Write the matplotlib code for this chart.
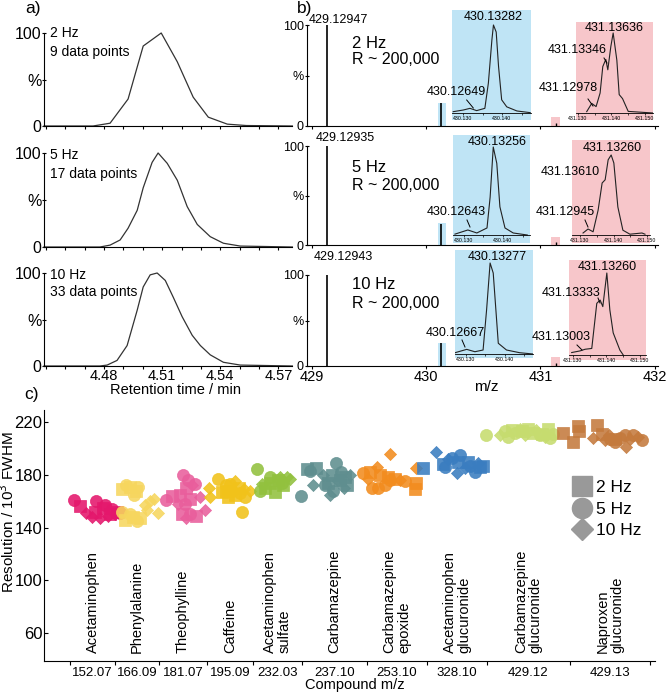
import matplotlib
matplotlib.use('Agg')
import matplotlib.pyplot as plt
from matplotlib.patches import Rectangle
from matplotlib.lines import Line2D

plt.rcParams['font.family'] = ['Liberation Sans', 'DejaVu Sans']

# ---------------- data: panel a (chromatograms) ----------------
rt_2hz = [4.449, 4.4743, 4.4831, 4.4924, 4.5002, 4.5095, 4.5178, 4.526, 4.5338, 4.5436, 4.5534, 4.5772]
int_2hz = [0, 0, 3, 29, 86, 100, 69, 31, 9.5, 2, 0.5, 0]
rt_5hz = [4.449, 4.4779, 4.4831, 4.4883, 4.4924, 4.4971, 4.5002, 4.5048, 4.5079, 4.5126, 4.5178,
          4.5229, 4.5281, 4.5348, 4.5416, 4.5503, 4.5772]
int_5hz = [0, 0, 2, 7.5, 20, 39, 63, 90, 100, 89, 71, 43, 24, 11, 4, 1, 0]
rt_10hz = [4.449, 4.4779, 4.4816, 4.4867, 4.4919, 4.4971, 4.5002, 4.5038, 4.5074, 4.5116, 4.5157,
           4.5203, 4.5255, 4.5297, 4.5348, 4.5416, 4.5503, 4.5772]
int_10hz = [0, 0, 1, 6, 22, 60, 85, 98, 100, 92, 74, 53, 33, 22, 12, 4, 1, 0]
freq_labels = ['2 Hz', '5 Hz', '10 Hz']
points_labels = ['9 data points', '17 data points', '33 data points']

# ---------------- data: panel b (spectra) ----------------
main_mz = [429.12947, 429.12935, 429.12943]
main_int = [100, 100, 100]
iso1_mz = [430.13282, 430.13256, 430.13277]
iso1_int = [23, 21, 25]
iso2_mz = [431.13636, 431.13260, 431.13260]
iso2_int = [3, 3, 3]

blue_mz_2hz = [430.1275, 430.1301, 430.1318, 430.1335, 430.1356, 430.1365, 430.1374, 430.1378,
               430.1385, 430.1391, 430.1399, 430.1412, 430.1438, 430.1472]
blue_int_2hz = [1.5, 3.4, 5.3, 2.7, 5.3, 34, 83, 100, 92, 53, 15, 7, 2.3, 0.4]
blue_mz_5hz = [430.1277, 430.1310, 430.1333, 430.1359, 430.1367, 430.1375, 430.1384, 430.1392,
               430.1405, 430.1426, 430.1462]
blue_int_5hz = [1, 5.7, 2.3, 8, 43, 100, 81.5, 32, 8, 2.3, 0]
blue_mz_10hz = [430.1272, 430.1302, 430.1323, 430.1344, 430.1353, 430.1362, 430.1370, 430.1383,
                430.1404, 430.1438, 430.1472]
blue_int_10hz = [1.4, 5.1, 2.5, 4.4, 48.5, 100, 89, 11.8, 4.4, 1.4, 0]

pink_mz_2hz = [431.1326, 431.1341, 431.1354, 431.1366, 431.1374, 431.1383, 431.1389, 431.1398,
               431.1405, 431.1416, 431.1423, 431.1433, 431.1450, 431.1524]
pink_int_2hz = [1.7, 12, 8, 25, 58, 67, 54, 83, 100, 66, 23, 18, 2, 0]
pink_mz_5hz = [431.1309, 431.1324, 431.1339, 431.1354, 431.1366, 431.1375, 431.1384, 431.1393,
               431.1401, 431.1413, 431.1428, 431.1449, 431.1485, 431.1494]
pink_int_5hz = [2.5, 7.5, 4, 31, 65, 69, 94, 100, 90, 35, 6, 1, 2.5, 1]
pink_mz_10hz = [431.1296, 431.1321, 431.1336, 431.1356, 431.1371, 431.1381, 431.1389, 431.1401,
                431.1410, 431.1420, 431.1440, 431.1450]
pink_int_10hz = [3, 5, 7, 8, 63, 67, 59, 100, 55, 27, 6, 0]

blue_peak_labels = ['430.13282', '430.13256', '430.13277']
blue_minor_labels = ['430.12649', '430.12643', '430.12667']
pink_peak_labels = ['431.13636', '431.13260', '431.13260']
pink_shoulder_labels = ['431.13346', '431.13610', '431.13333']
pink_minor_labels = ['431.12978', '431.12945', '431.13003']

# ---------------- data: panel c (resolution) ----------------
compounds = ['Acetaminophen', 'Phenylalanine', 'Theophylline', 'Caffeine', 'Acetaminophen\nsulfate',
             'Carbamazepine', 'Carbamazepine\nepoxide', 'Acetaminophen\nglucuronide',
             'Carbamazepine\nglucuronide', 'Naproxen\nglucuronide']
compound_mz = ['152.07', '166.09', '181.07', '195.09', '232.03', '237.10', '253.10', '328.10', '429.12', '429.13']
colors = ['#E4176C', '#F6D65E', '#E95E9C', '#F1C21A', '#92C13E', '#5F8E8F', '#F28C1E', '#3A7DC0',
          '#C6DC6F', '#C47A3D']

x_2hz = [[80, 95, 103, 110, 117], [122, 130, 136, 125, 133, 140], [172, 180, 186, 190, 196, 182],
         [222, 228, 235, 239, 226], [265, 275, 283, 278, 270], [307, 316, 328, 345, 347, 340, 332],
         [370, 380, 388, 395, 415, 416], [423, 443, 458, 468, 480, 483],
         [512, 522, 528, 533, 548, 542], [563, 578, 579, 597, 602, 573, 615]]
res_2hz = [[156, 152, 155, 150, 152], [169, 171, 168, 146, 148, 147], [164, 165, 170, 162, 149, 150],
           [167, 163, 165, 170, 168], [170, 167, 172, 176, 174], [184, 185, 174, 178, 172, 176, 180],
           [182, 180, 178, 177, 169, 174], [185, 188, 190, 190, 186, 187],
           [214, 213, 215, 212, 215, 211], [212, 217, 213, 218, 211, 205, 207]]
x_5hz = [[74, 96, 105, 112, 120], [126, 134, 138, 122, 130, 137], [166, 183, 188, 185, 190, 195],
         [218, 226, 232, 240, 245, 242, 230], [257, 260, 270, 282], [301, 310, 325, 336, 341, 333],
         [363, 372, 378, 385, 390, 405], [452, 460, 470, 475, 445],
         [486, 505, 508, 515, 540, 550, 553], [610, 620, 625, 633, 642, 615]]
res_5hz = [[161, 160, 157, 154, 151], [172, 165, 171, 152, 150, 145], [161, 180, 176, 158, 150, 173],
           [177, 172, 168, 166, 163, 152, 173], [184, 168, 178, 174], [164, 183, 172, 189, 182, 168],
           [181, 170, 170, 172, 176, 175], [193, 195, 187, 182, 186],
           [210, 213, 209, 212, 210, 208, 211], [207, 208, 210, 210, 206, 205]]
x_10hz = [[86, 92, 100, 108, 115, 122], [145, 150, 154, 158, 147], [178, 192, 205, 200, 186],
          [209, 210, 250, 235, 244], [287, 280, 290, 262], [313, 323, 330, 338, 350, 344],
          [368, 390, 400, 416, 377], [436, 457, 478, 465, 448],
          [500, 520, 536, 525, 545], [593, 605, 626, 630, 638, 609]]
res_10hz = [[151, 148, 147, 149, 150, 152], [157, 160, 162, 151, 153], [158, 172, 153, 163, 147],
            [170, 163, 168, 175, 169], [178, 178, 177, 173], [172, 180, 165, 175, 180, 170],
            [177, 196, 176, 185, 186], [197, 181, 189, 185, 192],
            [210, 215, 214, 210, 209], [208, 206, 201, 207, 209, 210]]

# ---------------- layout helpers ----------------
W, H = 666, 693
fig = plt.figure(figsize=(W / 100, H / 100), dpi=100)


def rect(x0, y0, x1, y1):
    return [x0 / W, 1 - y1 / H, (x1 - x0) / W, (y1 - y0) / H]


def fx(px):
    return px / W


def fy(py):
    return 1 - py / H


def ftext(px, py, s, **kw):
    fig.text(fx(px), fy(py), s, **kw)


def fline(x0, y0, x1, y1):
    fig.add_artist(Line2D([fx(x0), fx(x1)], [fy(y0), fy(y1)], color='k', lw=0.7))


# ---------------- panel a ----------------
a_tops = [33, 153, 273]
a_bots = [126, 247, 366]
a_rt = [rt_2hz, rt_5hz, rt_10hz]
a_int = [int_2hz, int_5hz, int_10hz]
a_text_y = [(33, 52), (155, 174), (275, 292)]
for i in range(3):
    ax = fig.add_axes(rect(44, a_tops[i], 292, a_bots[i]))
    ax.plot(a_rt[i], a_int[i], color='#333333', lw=0.9, clip_on=False)
    ax.set_xlim(4.449, 4.577)
    ax.set_ylim(0, 100)
    for s in ['top', 'right']:
        ax.spines[s].set_visible(False)
    for s in ['left', 'bottom']:
        ax.spines[s].set_linewidth(0.8)
    ax.set_yticks([0, 50, 100], ['0', '%', '100'], fontsize=11.5)
    ax.set_xticks([4.48, 4.51, 4.54, 4.57])
    ax.set_xticks([4.45, 4.46, 4.47, 4.49, 4.50, 4.52, 4.53, 4.55, 4.56], minor=True)
    ax.tick_params(axis='y', which='both', length=2.5, width=0.8, pad=0.5, direction='inout')
    ax.tick_params(axis='x', which='both', length=2.5, width=0.8, labelsize=10.5, pad=0)
    if i < 2:
        ax.set_xticklabels([])
    ax.patch.set_alpha(0)
    ftext(50, a_text_y[i][0], freq_labels[i], fontsize=10, va='center', ha='left')
    ftext(50, a_text_y[i][1], points_labels[i], fontsize=10, va='center', ha='left')

ftext(176, 390, 'Retention time / min', fontsize=10.5, ha='center', va='center')

ftext(25, 8, 'a)', fontsize=12.5, va='center', ha='left')
ftext(297, 8, 'b)', fontsize=12.5, va='center', ha='left')
ftext(24, 394, 'c)', fontsize=12.5, va='center', ha='left')

# ---------------- panel b ----------------
BLUE = '#BFE4F5'
PINK = '#F7C6CA'
b_tops = [25, 146, 275]
b_bots = [126, 245, 366]
blue_rect_h = [23, 22, 25]
pink_rect_h = [9, 8, 10]
for i in range(3):
    ax = fig.add_axes(rect(307, b_tops[i], 658, b_bots[i]))
    ax.set_xlim(428.956, 432.03)
    ax.set_ylim(0, 100)
    ax.add_patch(Rectangle((430.102, 0), 0.07, blue_rect_h[i], color=BLUE, lw=0, zorder=0))
    ax.add_patch(Rectangle((431.090, 0), 0.079, pink_rect_h[i], color=PINK, lw=0, zorder=0))
    ax.vlines([main_mz[i]], 0, [main_int[i]], color='k', lw=1.2)
    ax.vlines([iso1_mz[i]], 0, [iso1_int[i]], color='k', lw=1.2)
    ax.vlines([iso2_mz[i]], 0, [iso2_int[i]], color='k', lw=1.0)
    for s in ['top', 'right']:
        ax.spines[s].set_visible(False)
    for s in ['left', 'bottom']:
        ax.spines[s].set_linewidth(0.8)
    ax.set_yticks([0, 50, 100], ['0', '%', '100'], fontsize=9)
    ax.set_xticks([429, 430, 431, 432])
    ax.tick_params(axis='y', length=2.5, width=0.8, pad=1, direction='inout')
    ax.tick_params(axis='x', length=2.5, width=0.8, labelsize=10.5, pad=0.5)
    if i < 2:
        ax.set_xticklabels([])
    ax.patch.set_alpha(0)

ftext(486, 387, 'm/z', fontsize=11, ha='center', va='center')

# insets
blue_boxes = [(452, 10, 531, 120, 113, 25), (453, 135, 530, 243, 235, 147), (455, 250, 533, 358, 354, 263)]
blue_xlims = [(430.1272, 430.1474), (430.1272, 430.1469), (430.1272, 430.1472)]
pink_boxes = [(576, 22, 653, 120, 113, 33), (572, 140, 650, 243, 235, 155), (569, 260, 646, 360, 355, 273)]
pink_xlims = [(431.1294, 431.1524), (431.1276, 431.1509), (431.1288, 431.1518)]
blue_data = [(blue_mz_2hz, blue_int_2hz), (blue_mz_5hz, blue_int_5hz), (blue_mz_10hz, blue_int_10hz)]
pink_data = [(pink_mz_2hz, pink_int_2hz), (pink_mz_5hz, pink_int_5hz), (pink_mz_10hz, pink_int_10hz)]


def make_inset(box, xlim, color, mz, inten, ticks, minor, labels):
    x0, y0, x1, y1, base, peak = box
    ax = fig.add_axes(rect(x0, y0, x1, y1))
    ax.set_facecolor(color)
    scale = (base - peak) / 100.0
    ax.set_ylim(-(y1 - base) / scale, 100 + (peak - y0) / scale)
    ax.set_xlim(*xlim)
    ax.plot(mz, inten, color='#222222', lw=0.8)
    ax.spines['bottom'].set_position(('data', 0))
    ax.spines['bottom'].set_linewidth(0.6)
    for s in ['top', 'right', 'left']:
        ax.spines[s].set_visible(False)
    ax.set_yticks([])
    ax.set_xticks(ticks, labels, fontsize=3.8)
    ax.set_xticks(minor, minor=True)
    ax.tick_params(axis='x', which='both', length=1.5, width=0.5, pad=0.5)
    return ax


for i in range(3):
    make_inset(blue_boxes[i], blue_xlims[i], BLUE, *blue_data[i],
               [430.130, 430.140], [430.135, 430.145], ['430.130', '430.140'])
    make_inset(pink_boxes[i], pink_xlims[i], PINK, *pink_data[i],
               [431.130, 431.140, 431.150], [431.135, 431.145], ['431.130', '431.140', '431.150'])

# annotations in panel b
fs_ann = 9
main_text_pos = [(338, 20), (345, 138), (343, 257)]
rtext_y = [(43, 60), (168, 185), (285, 303)]
blue_peak_pos = [(493, 17), (497, 142), (497, 257)]
blue_minor_pos = [(456, 92), (456, 212), (455, 333)]
blue_lead = [(466.7, 100, 473.3, 108), (467, 220, 470, 227), (462, 340, 465, 347)]
pink_peak_pos = [(614, 28), (612, 148), (607, 267)]
pink_sh_pos = [(577, 50), (570, 172), (571, 293)]
pink_sh_lead = [(604, 58, 607, 63), None, (598, 298, 600, 303)]
pink_minor_pos = [(568, 88), (565, 212), (561, 337)]
pink_minor_lead = [(588, 99, 593, 106), (585, 220, 588, 227), (577, 345, 582, 350)]
for i in range(3):
    ftext(*main_text_pos[i], f'{main_mz[i]:.5f}', fontsize=fs_ann, ha='center', va='center')
    ftext(352, rtext_y[i][0], freq_labels[i], fontsize=12, ha='left', va='center')
    ftext(352, rtext_y[i][1], 'R ~ 200,000', fontsize=11.5, ha='left', va='center')
    ftext(*blue_peak_pos[i], blue_peak_labels[i], fontsize=fs_ann, ha='center', va='center')
    ftext(*blue_minor_pos[i], blue_minor_labels[i], fontsize=fs_ann, ha='center', va='center')
    fline(*blue_lead[i])
    ftext(*pink_peak_pos[i], pink_peak_labels[i], fontsize=fs_ann, ha='center', va='center')
    ftext(*pink_sh_pos[i], pink_shoulder_labels[i], fontsize=fs_ann, ha='center', va='center')
    if pink_sh_lead[i]:
        fline(*pink_sh_lead[i])
    ftext(*pink_minor_pos[i], pink_minor_labels[i], fontsize=fs_ann, ha='center', va='center')
    fline(*pink_minor_lead[i])

# ---------------- panel c ----------------
axc = fig.add_axes(rect(44, 410, 655, 661))
axc.set_xlim(44, 655)
axc.set_ylim(38.8, 229.1)
bounds = [70, 115, 159, 207, 253, 302, 367, 427, 487, 570, 650]
centers = [(bounds[k] + bounds[k + 1]) / 2 for k in range(len(bounds) - 1)]
for k in range(len(compounds)):
    c = colors[k]
    axc.scatter(x_2hz[k], res_2hz[k], marker='s', s=66, color=c, alpha=0.88, edgecolor=c, lw=0.5, zorder=3)
    axc.scatter(x_5hz[k], res_5hz[k], marker='o', s=76, color=c, alpha=0.88, edgecolor=c, lw=0.5, zorder=3)
    axc.scatter(x_10hz[k], res_10hz[k], marker='D', s=38, color=c, alpha=0.88, edgecolor=c, lw=0.5, zorder=3)
    axc.text(centers[k], 45, compounds[k], rotation=90, ha='center', va='bottom',
             multialignment='left', fontsize=10.5, linespacing=1.05)
for s in ['top', 'right']:
    axc.spines[s].set_visible(False)
for s in ['left', 'bottom']:
    axc.spines[s].set_linewidth(0.8)
axc.set_yticks([60, 100, 140, 180, 220])
axc.tick_params(axis='y', labelsize=12, length=3, width=0.8, pad=1, direction='in')
axc.set_xticks(centers, compound_mz)
axc.set_xticks(bounds, minor=True)
axc.tick_params(axis='x', which='major', length=0, labelsize=9.5, pad=4)
axc.tick_params(axis='x', which='minor', length=3, width=0.8)
axc.patch.set_alpha(0)
ftext(355, 685, 'Compound m/z', fontsize=10.5, ha='center', va='center')
ftext(8, 512, 'Resolution / 10$^3$ FWHM', fontsize=11, ha='center', va='center', rotation=90)

handles = [Line2D([], [], ls='', marker='s', ms=14, color='#999999'),
           Line2D([], [], ls='', marker='o', ms=14.5, color='#999999'),
           Line2D([], [], ls='', marker='D', ms=11, color='#999999')]
axc.legend(handles, freq_labels, loc='center left', bbox_to_anchor=(fx(573), fy(509)),
           bbox_transform=fig.transFigure, frameon=False, fontsize=12.5, handlelength=1.0,
           handletextpad=0.3, labelspacing=0.35, borderpad=0, borderaxespad=0)

fig.savefig('out.png', dpi=100)
